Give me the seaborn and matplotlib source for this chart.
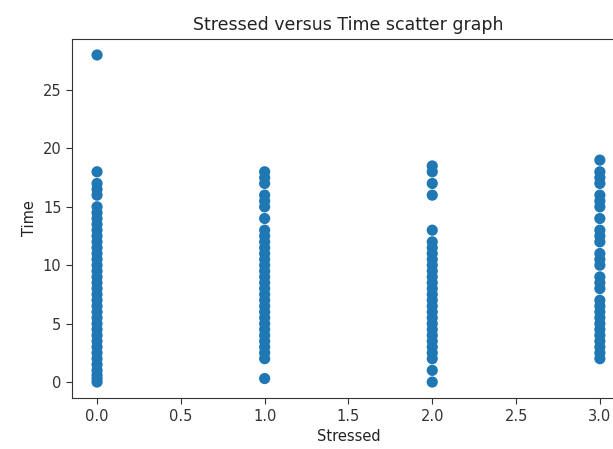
import matplotlib
matplotlib.use("Agg")
import matplotlib.pyplot as plt
import seaborn as sns
import pandas as pd

time_s0 = [0, 0.3, 0.6, 1, 1.5, 2, 2.5, 3, 3.5, 4, 4.5, 5, 5.5, 6, 6.5, 7, 7.5, 8,
           8.5, 9, 9.5, 10, 10.5, 11, 11.5, 12, 12.5, 13, 13.5, 14, 14.5, 15, 16,
           16.5, 17, 18, 28]
time_s1 = [0.3, 2, 2.5, 3, 3.5, 4, 4.5, 5, 5.5, 6, 6.5, 7, 7.5, 8, 8.5, 9, 9.5, 10,
           10.5, 11, 11.5, 12, 12.5, 13, 14, 15, 15.5, 16, 17, 17.5, 18]
time_s2 = [0, 1, 2, 2.5, 3, 3.5, 4, 4.5, 5, 5.5, 6, 6.5, 7, 7.5, 8, 8.5, 9, 9.5,
           10, 10.5, 11, 11.5, 12, 13, 16, 17, 18, 18.5]
time_s3 = [2, 2.5, 3, 3.5, 4, 4.5, 5, 5.5, 6, 6.5, 7, 8, 8.5, 9, 10, 10.5, 11,
           12, 12.5, 13, 14, 15, 15.5, 16, 17, 17.5, 18, 19]

stressed = ([0.0] * len(time_s0) + [1.0] * len(time_s1)
            + [2.0] * len(time_s2) + [3.0] * len(time_s3))
times = time_s0 + time_s1 + time_s2 + time_s3
df = pd.DataFrame({"Stressed": stressed, "Time": times})

sns.set_style("ticks")
plt.rcParams["font.family"] = ["DejaVu Sans"]

fig = plt.figure(figsize=(6.13, 4.49), dpi=100)
ax = fig.add_axes([0.1173, 0.1127, 0.9023, 0.8013])
sns.scatterplot(data=df, x="Stressed", y="Time", ax=ax, s=65,
                color="#1f77b4", edgecolor="none", linewidth=0)
ax.set_xticks([0.0, 0.5, 1.0, 1.5, 2.0, 2.5, 3.0])
ax.set_xticklabels(["0.0", "0.5", "1.0", "1.5", "2.0", "2.5", "3.0"])
ax.set_yticks([0, 5, 10, 15, 20, 25])
ax.set_xlim(-0.15, 3.15)
ax.set_ylim(-1.4, 29.4)
ax.tick_params(labelsize=10.5, colors="#333333", length=4)
for sp in ax.spines.values():
    sp.set_color("#333333")
ax.set_xlabel("Stressed", fontsize=10.5, color="#222222")
ax.set_ylabel("Time", fontsize=10.5, color="#222222")
ax.set_title("Stressed versus Time scatter graph", fontsize=12.5, color="#222222")
fig.savefig("out.png", dpi=100)
